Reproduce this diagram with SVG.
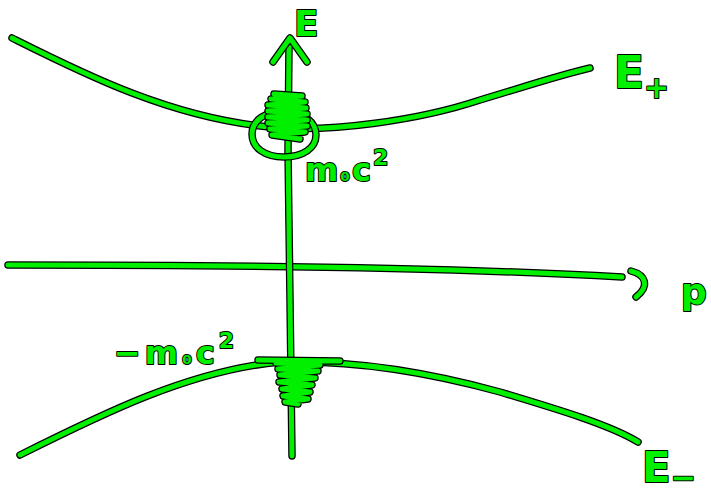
<svg xmlns="http://www.w3.org/2000/svg" width="711" height="494" viewBox="0 0 711 494">
<style>
.o{fill:none;stroke:#000;stroke-width:7.5;stroke-linecap:round;stroke-linejoin:round}
.g{fill:none;stroke:#00f000;stroke-width:5;stroke-linecap:round;stroke-linejoin:round}
.t{font-family:"DejaVu Sans","Liberation Sans",sans-serif;font-weight:bold;fill:#00f000;stroke:#000;stroke-width:2;paint-order:stroke;stroke-linejoin:round}
</style>
<defs>
<path id="eplus" d="M12,38 C80,72 170,118 270,127 C330,133 420,120 480,100 C530,85 560,75 590,68"/>
<path id="eminus" d="M20,455 C100,415 190,370 280,362 C350,360 420,370 500,392 C560,410 610,425 638,442"/>
<path id="vaxis" d="M292,456 L290,300 L288,150 L289,45"/>
<path id="varrow" d="M273,62 L290,38 L307,62"/>
<path id="haxis" d="M8,265 C200,265 450,267 622,277"/>
<path id="harrow" d="M631,271 C646,275 650,286 636,297"/>
<path id="circ" d="M284,111 C303,111 316,122 316,135 C316,148 303,157 284,157 C265,157 252,148 252,134 C252,121 265,111 284,111 Z"/>
<path id="scrib1" d="M274,94 L302,96 L271,99 L305,102 L268,105 L306,108 L268,111 L307,114 L268,117 L307,120 L268,123 L307,126 L270,129 L305,132 L272,135 L300,139"/>
<path id="scrib2" d="M258,360 L340,361 M276,363 L320,365 L278,369 L318,371 L280,375 L315,378 L279,382 L312,385 L282,389 L310,392 L283,396 L308,399 L285,402 L298,404"/>
</defs>
<g id="connectors">
<use href="#eplus" class="o"/><use href="#eplus" class="g"/>
<use href="#eminus" class="o"/><use href="#eminus" class="g"/>
<use href="#haxis" class="o"/><use href="#haxis" class="g"/>
<use href="#harrow" class="o"/><use href="#harrow" class="g"/>
<use href="#vaxis" class="o"/><use href="#vaxis" class="g"/>
<use href="#varrow" class="o"/><use href="#varrow" class="g"/>
</g>
<g id="gap-top">
<use href="#circ" class="o"/><use href="#circ" class="g"/>
<use href="#scrib1" class="o"/><use href="#scrib1" class="g"/>
</g>
<g id="gap-bottom">
<use href="#scrib2" class="o"/><use href="#scrib2" class="g"/>
</g>
<g id="label-E"><text class="t" x="294" y="36" font-size="36">E</text></g>
<g id="label-Eplus"><text class="t" x="614" y="88" font-size="44">E<tspan font-size="30" dy="10">+</tspan></text></g>
<g id="label-p"><text class="t" x="681" y="304" font-size="36">p</text></g>
<g id="label-Eminus"><text class="t" x="642" y="482" font-size="42">E<tspan font-size="30" dy="6">−</tspan></text></g>
<g id="label-m0c2"><text class="t" x="305" y="181" font-size="32" letter-spacing="2">m<tspan font-size="22">₀</tspan>c<tspan font-size="22" dy="-16">2</tspan></text></g>
<g id="label-neg-m0c2"><text class="t" x="114" y="364" font-size="32" letter-spacing="4">−m<tspan font-size="22">₀</tspan>c<tspan font-size="22" dy="-16">2</tspan></text></g>
</svg>
